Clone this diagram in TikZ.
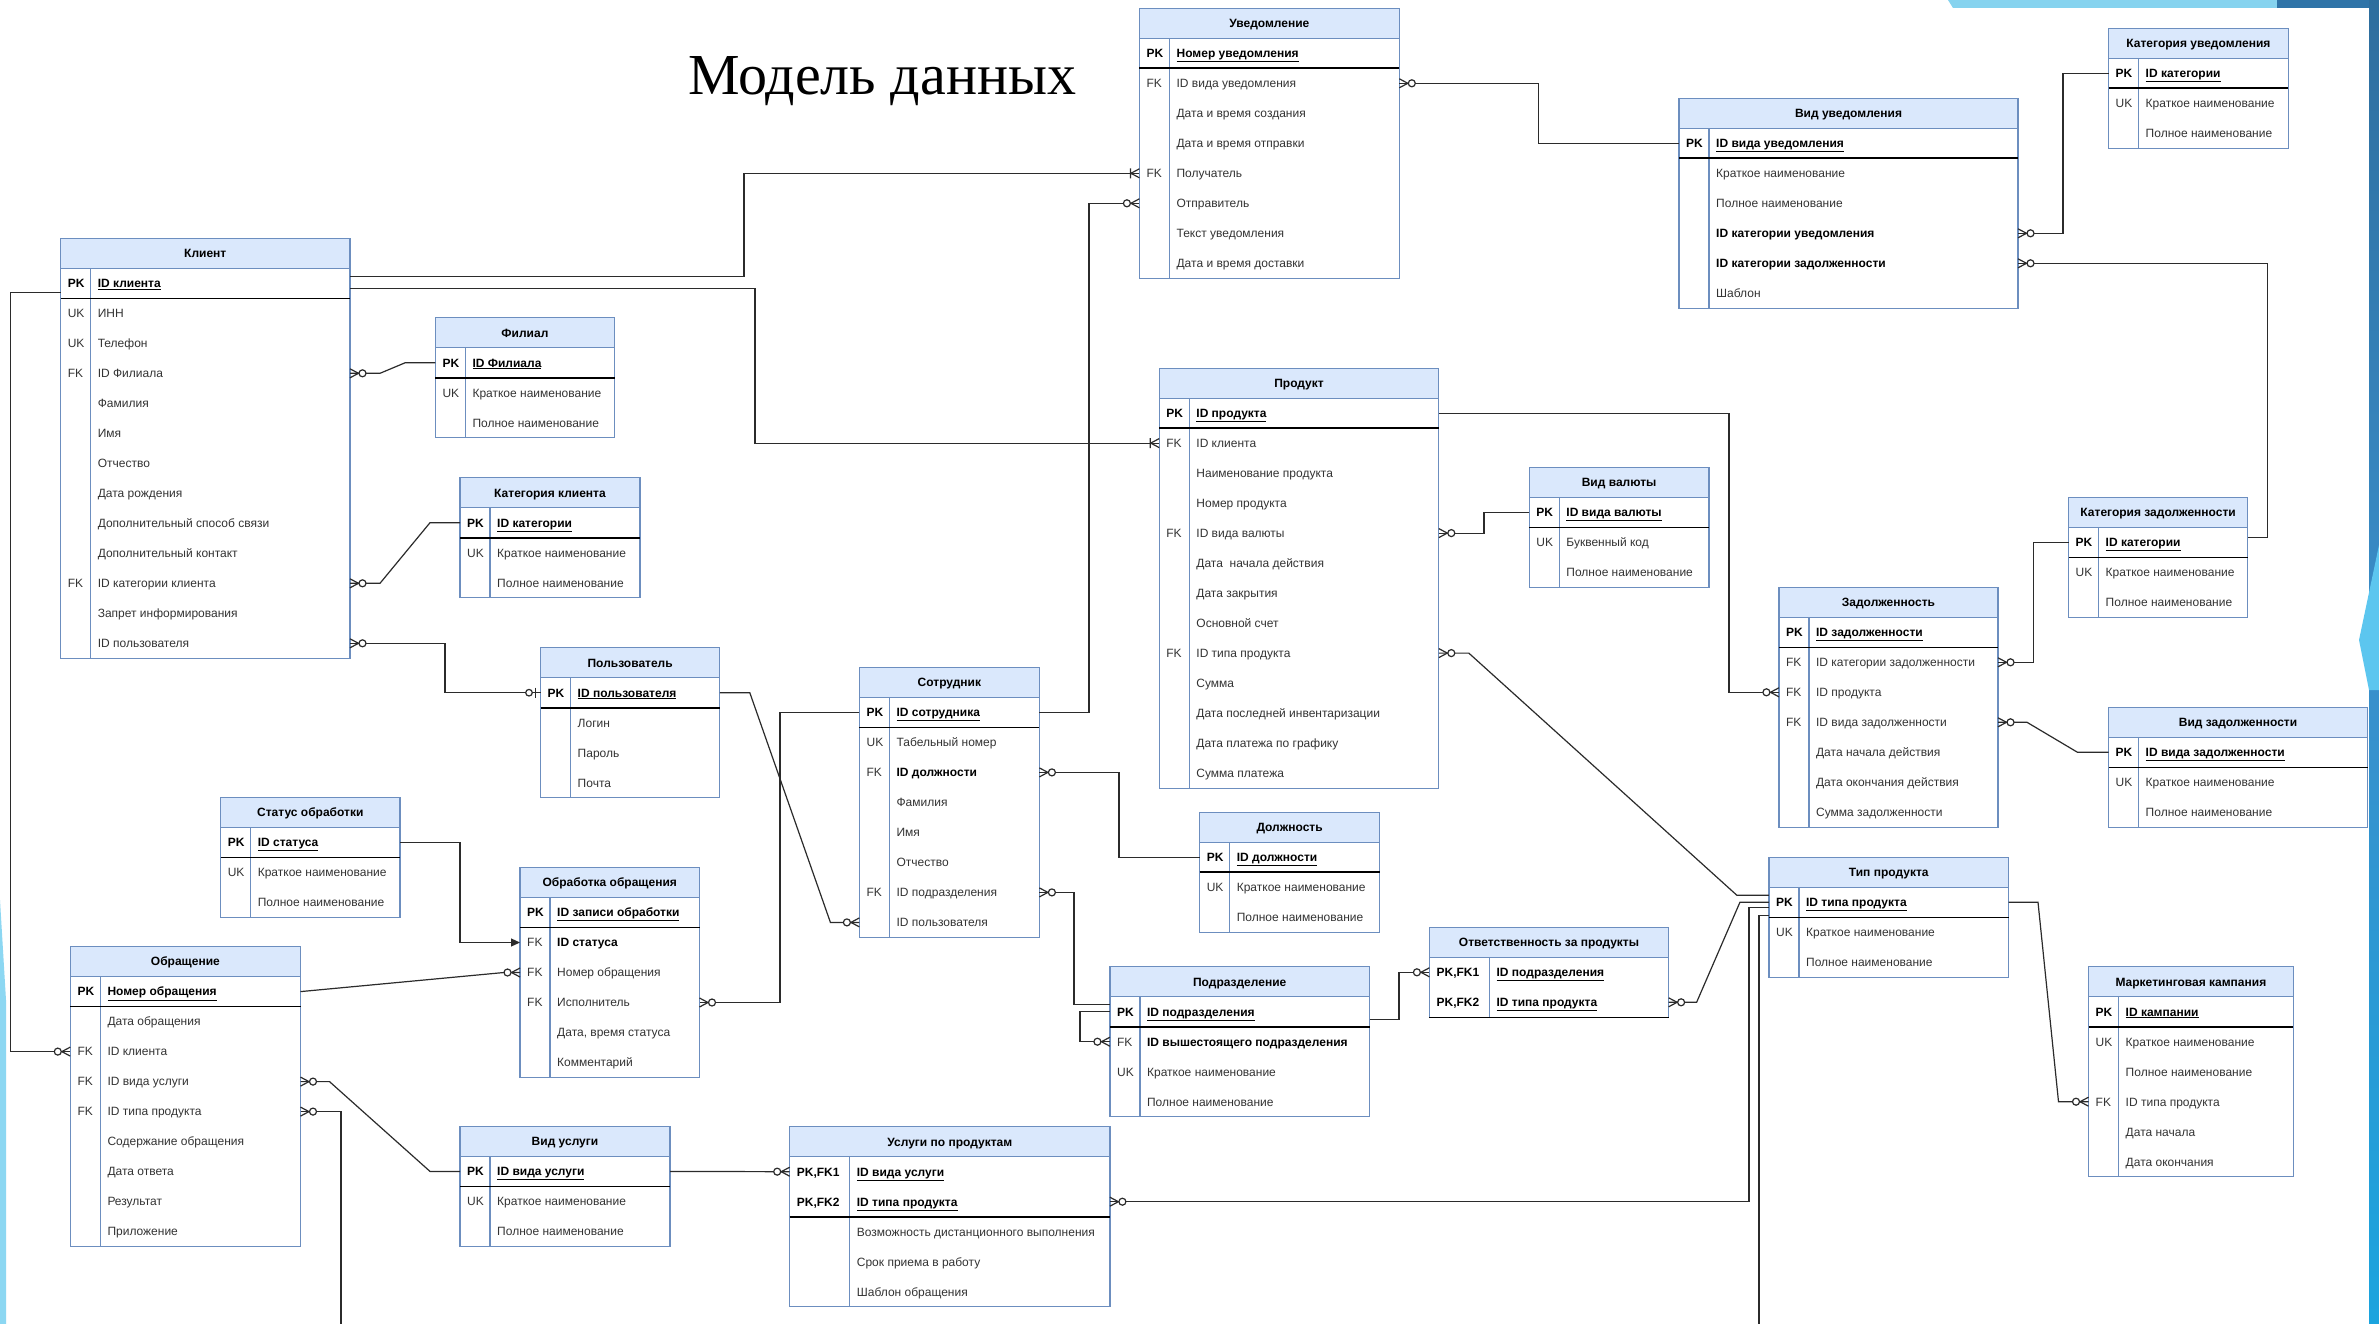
\documentclass[tikz,border=0pt]{standalone}
\usepackage{fontspec}
\setmainfont{Liberation Sans}
\newfontfamily\titlefont{Liberation Serif}
\usetikzlibrary{arrows.meta}
\definecolor{hdrfill}{HTML}{DAE8FC}
\definecolor{erblue}{HTML}{6C8EBF}
\definecolor{lnk}{HTML}{2B2B2B}
\definecolor{txt}{HTML}{333333}
\definecolor{decolight}{HTML}{86D3EF}
\definecolor{decodark}{HTML}{2F74A8}
\definecolor{decotop}{HTML}{2E6E9E}
\definecolor{decomid}{HTML}{3A8FCB}
\definecolor{decobot}{HTML}{1BA4DE}
\definecolor{decofacet}{HTML}{5CC6EF}
\definecolor{decoleft}{HTML}{8CD7F2}

% zero or many
\pgfdeclarearrow{
  name = ERzm,
  setup code = {
    \pgfarrowssettipend{0pt}
    \pgfarrowssetlineend{0pt}
    \pgfarrowssetbackend{-17pt}
  },
  drawing code = {
    \pgfsetdash{}{0pt}
    \pgfpathmoveto{\pgfqpoint{0pt}{4.5pt}}
    \pgfpathlineto{\pgfqpoint{-8.5pt}{0pt}}
    \pgfpathlineto{\pgfqpoint{0pt}{-4.5pt}}
    \pgfusepathqstroke
    \pgfpathcircle{\pgfqpoint{-12.5pt}{0pt}}{3.5pt}
    \pgfsetfillcolor{white}
    \pgfusepathqfillstroke
  }
}
% one or many
\pgfdeclarearrow{
  name = ERom,
  setup code = {
    \pgfarrowssettipend{0pt}
    \pgfarrowssetlineend{0pt}
    \pgfarrowssetbackend{-12pt}
  },
  drawing code = {
    \pgfsetdash{}{0pt}
    \pgfpathmoveto{\pgfqpoint{0pt}{4.5pt}}
    \pgfpathlineto{\pgfqpoint{-8.5pt}{0pt}}
    \pgfpathlineto{\pgfqpoint{0pt}{-4.5pt}}
    \pgfpathmoveto{\pgfqpoint{-9pt}{5pt}}
    \pgfpathlineto{\pgfqpoint{-9pt}{-5pt}}
    \pgfusepathqstroke
  }
}
% zero or one
\pgfdeclarearrow{
  name = ERzo,
  setup code = {
    \pgfarrowssettipend{0pt}
    \pgfarrowssetlineend{0pt}
    \pgfarrowssetbackend{-16pt}
  },
  drawing code = {
    \pgfsetdash{}{0pt}
    \pgfpathmoveto{\pgfqpoint{-5pt}{5pt}}
    \pgfpathlineto{\pgfqpoint{-5pt}{-5pt}}
    \pgfusepathqstroke
    \pgfpathcircle{\pgfqpoint{-11.5pt}{0pt}}{3.3pt}
    \pgfsetfillcolor{white}
    \pgfusepathqfillstroke
  }
}

\newcommand\pk[1]{\textcolor{black}{\bfseries\underline{#1}}}
\newcommand\bk[1]{\textcolor{black}{\bfseries #1}}

\tikzset{
  erhdr/.style={draw=erblue, fill=hdrfill, line width=1.2pt, minimum height=30pt, inner sep=0pt, outer sep=0pt},
  erhdrtext/.style={font=\bfseries\fontsize{12}{14}\selectfont, text=black, inner sep=0pt},
  errow/.style={minimum height=30pt, inner sep=0pt, outer sep=0pt},
  erkey/.style={font=\fontsize{12}{14}\selectfont, text=txt, inner sep=0pt},
  erfld/.style={font=\fontsize{12}{14}\selectfont, text=txt, inner sep=0pt},
  erline/.style={draw=erblue, line width=1.2pt},
  pkline/.style={draw=black, line width=1.6pt},
  conn/.style={draw=lnk, line width=1.2pt},
}

% #1 name, #2 x, #3 y, #4 width, #5 key width, #6 number of PK rows, #7 title, #8 rows
\newcommand\ertbl[8]{%
  \node[erhdr, minimum width=#4pt, anchor=north west] (#1) at (#2,#3) {};
  \node[erhdrtext, anchor=base] (#1-title) at ({#2+#4/2},{#3+19.3}) {#7};
  \foreach[count=\i] \k/\t in {#8} {%
    \node[errow, minimum width=#4pt, anchor=north west] (#1-\i) at (#2,{#3+30*\i}) {};
    \node[erkey, anchor=base west] (#1-\i-k) at ({#2+7},{#3+30*\i+19.3}) {\k};
    \node[erfld, anchor=base west] (#1-\i-f) at ({#2+#5+7},{#3+30*\i+19.3}) {\t};
    \xdef\ernrows{\i}%
  }%
  \draw[erline] (#2,{#3+30}) rectangle ({#2+#4},{#3+30+30*\ernrows});
  \draw[erline] ({#2+#5},{#3+30}) -- ({#2+#5},{#3+30+30*\ernrows});
  \draw[pkline] (#2,{#3+30+30*#6}) -- ({#2+#4},{#3+30+30*#6});
}

\begin{document}
\begin{tikzpicture}[x=1pt,y=-1pt]
\useasboundingbox (0,0) rectangle (2379,1324);
\fill[white] (0,0) rectangle (2379,1324);

% decorations
\fill[decolight] (1948,0) -- (2277,0) -- (2277,8) -- (1953,8) -- cycle;
\fill[decodark] (2277,0) rectangle (2379,8);
\shade[top color=decotop, bottom color=decobot, middle color=decomid] (2369,0) rectangle (2379,1324);
\fill[decofacet] (2379,545) -- (2359,640) -- (2369,690) -- (2379,690) -- cycle;
\fill[decoleft] (0,900) -- (6,1000) -- (6,1324) -- (0,1324) -- cycle;

% title
\node[font=\titlefont\fontsize{58}{62}\selectfont, anchor=base west, inner sep=0pt] (title) at (688,95) {Модель данных};

% tables
\ertbl{klient}{60.6}{238.3}{289.4}{30}{1}{Клиент}{\bk{PK}/\pk{ID клиента}, UK/ИНН, UK/Телефон, FK/ID Филиала, {}/Фамилия, {}/Имя, {}/Отчество, {}/Дата рождения, {}/Дополнительный способ связи, {}/Дополнительный контакт, FK/ID категории клиента, {}/Запрет информирования, {}/ID пользователя}
\ertbl{filial}{435.3}{317.7}{179.3}{30}{1}{Филиал}{\bk{PK}/\pk{ID Филиала}, UK/Краткое наименование, {}/Полное наименование}
\ertbl{katklient}{460}{477.7}{180}{30}{1}{Категория клиента}{\bk{PK}/\pk{ID категории}, UK/Краткое наименование, {}/Полное наименование}
\ertbl{polz}{540.5}{647.7}{179.3}{30}{1}{Пользователь}{\bk{PK}/\pk{ID пользователя}, {}/Логин, {}/Пароль, {}/Почта}
\ertbl{status}{220.6}{797.5}{179.4}{30}{1}{Статус обработки}{\bk{PK}/\pk{ID статуса}, UK/Краткое наименование, {}/Полное наименование}
\ertbl{obrab}{520}{867.5}{179.5}{30}{1}{Обработка обращения}{\bk{PK}/\pk{ID записи обработки}, FK/\bk{ID статуса}, FK/Номер обращения, FK/Исполнитель, {}/{Дата, время статуса}, {}/Комментарий}
\ertbl{obr}{70.3}{946.6}{230.2}{30}{1}{Обращение}{\bk{PK}/\pk{Номер обращения}, {}/Дата обращения, FK/ID клиента, FK/ID вида услуги, FK/ID типа продукта, {}/Содержание обращения, {}/Дата ответа, {}/Результат, {}/Приложение}
\ertbl{vidusl}{460}{1126.4}{210}{30}{1}{Вид услуги}{\bk{PK}/\pk{ID вида услуги}, UK/Краткое наименование, {}/Полное наименование}
\ertbl{uslprod}{789.7}{1126.7}{320.2}{60}{2}{Услуги по продуктам}{\bk{PK,FK1}/\pk{ID вида услуги}, \bk{PK,FK2}/\pk{ID типа продукта}, {}/Возможность дистанционного выполнения, {}/Срок приема в работу, {}/Шаблон обращения}
\ertbl{uved}{1139.4}{8.3}{259.9}{30}{1}{Уведомление}{\bk{PK}/\pk{Номер уведомления}, FK/ID вида уведомления, {}/Дата и время создания, {}/Дата и время отправки, FK/Получатель, {}/Отправитель, {}/Текст уведомления, {}/Дата и время доставки}
\ertbl{sotr}{859.4}{667.4}{180}{30}{1}{Сотрудник}{\bk{PK}/\pk{ID сотрудника}, UK/Табельный номер, FK/\bk{ID должности}, {}/Фамилия, {}/Имя, {}/Отчество, FK/ID подразделения, {}/ID пользователя}
\ertbl{prod}{1159.2}{368.1}{279.6}{30}{1}{Продукт}{\bk{PK}/\pk{ID продукта}, FK/ID клиента, {}/Наименование продукта, {}/Номер продукта, FK/ID вида валюты, {}/Дата\ \ начала действия, {}/Дата закрытия, {}/Основной счет, FK/ID типа продукта, {}/Сумма, {}/Дата последней инвентаризации, {}/Дата платежа по графику, {}/Сумма платежа}
\ertbl{dolzh}{1199.6}{812.1}{180}{30}{1}{Должность}{\bk{PK}/\pk{ID должности}, UK/Краткое наименование, {}/Полное наименование}
\ertbl{podr}{1109.9}{966.7}{259.6}{30}{1}{Подразделение}{\bk{PK}/\pk{ID подразделения}, FK/\bk{ID вышестоящего подразделения}, UK/Краткое наименование, {}/Полное наименование}
\ertbl{otv}{1429.4}{927.3}{239.2}{60}{2}{Ответственность за продукты}{\bk{PK,FK1}/\pk{ID подразделения}, \bk{PK,FK2}/\pk{ID типа продукта}}
\ertbl{viduv}{1679}{98.3}{339}{30}{1}{Вид уведомления}{\bk{PK}/\pk{ID вида уведомления}, {}/Краткое наименование, {}/Полное наименование, {}/\bk{ID категории уведомления}, {}/\bk{ID категории задолженности}, {}/Шаблон}
\ertbl{katuv}{2108.5}{28.3}{179.8}{30}{1}{Категория уведомления}{\bk{PK}/\pk{ID категории}, UK/Краткое наименование, {}/Полное наименование}
\ertbl{valuta}{1529.2}{467.3}{179.8}{30}{1}{Вид валюты}{\bk{PK}/\pk{ID вида валюты}, UK/Буквенный код, {}/Полное наименование}
\ertbl{katzad}{2068.5}{497.3}{179.2}{30}{1}{Категория задолженности}{\bk{PK}/\pk{ID категории}, UK/Краткое наименование, {}/Полное наименование}
\ertbl{zad}{1778.9}{587.3}{219.1}{30}{1}{Задолженность}{\bk{PK}/\pk{ID задолженности}, FK/ID категории задолженности, FK/ID продукта, FK/ID вида задолженности, {}/Дата начала действия, {}/Дата окончания действия, {}/Сумма задолженности}
\ertbl{vidzad}{2108.5}{707.3}{259}{30}{1}{Вид задолженности}{\bk{PK}/\pk{ID вида задолженности}, UK/Краткое наименование, {}/Полное наименование}
\ertbl{tip}{1768.9}{857.3}{239.7}{30}{1}{Тип продукта}{\bk{PK}/\pk{ID типа продукта}, UK/Краткое наименование, {}/Полное наименование}
\ertbl{mark}{2088.5}{966.7}{204.8}{30}{1}{Маркетинговая кампания}{\bk{PK}/\pk{ID кампании}, UK/Краткое наименование, {}/Полное наименование, FK/ID типа продукта, {}/Дата начала, {}/Дата окончания}

% bend coordinates
\coordinate (v1) at (744,0);
\coordinate (v2) at (755,0);
\coordinate (v3) at (10.7,0);
\coordinate (v6) at (445,0);
\coordinate (v8) at (1089,0);
\coordinate (v9) at (780,0);
\coordinate (v10) at (1119,0);
\coordinate (v11) at (1074,0);
\coordinate (v12) at (1080,0);
\coordinate (v13) at (1399,0);
\coordinate (v16) at (1749,0);
\coordinate (v22) at (460,0);
\coordinate (v23) at (1538.6,0);
\coordinate (v24) at (2063,0);
\coordinate (v25) at (2267.7,0);
\coordinate (v26) at (1729,0);
\coordinate (v27) at (2033.6,0);
\coordinate (v29) at (1484,0);
\coordinate (bot1) at (341,1324);
\coordinate (bot2) at (1759,1324);
\coordinate (podrtop) at ([yshift=7pt]podr-1.west);
\coordinate (tipc) at ([yshift=-5pt]tip-1.west);
\coordinate (kzr) at ([yshift=5pt]katzad-1.east);

% connectors
\draw[conn,-ERom] ([yshift=7pt]klient-1.east) -| (v1 |- uved-5.west) -- (uved-5.west);
\draw[conn,-ERom] ([yshift=-5pt]klient-1.east) -| (v2 |- prod-2.west) -- (prod-2.west);
\draw[conn,-ERzm] ([yshift=-9pt]klient-1.west) -| (v3 |- obr-3.west) -- (obr-3.west);
\draw[conn,ERzm-] (klient-4.east) -- ++(30,0) -- ([xshift=-30pt]filial-1.west) -- (filial-1.west);
\draw[conn,ERzm-] (klient-11.east) -- ++(30,0) -- ([xshift=-30pt]katklient-1.west) -- (katklient-1.west);
\draw[conn,ERzm-ERzo] (klient-13.east) -| (v6 |- polz-1.west) -- (polz-1.west);
\draw[conn,-ERzm] (polz-1.east) -- ++(30,0) -- ([xshift=-29pt]sotr-8.west) -- (sotr-8.west);
\draw[conn,-ERzm] (sotr-1.east) -| (v8 |- uved-6.west) -- (uved-6.west);
\draw[conn,-ERzm] (sotr-1.west) -| (v9 |- obrab-4.east) -- (obrab-4.east);
\draw[conn,ERzm-] (sotr-3.east) -| (v10 |- dolzh-1.west) -- (dolzh-1.west);
\draw[conn,ERzm-] (sotr-7.east) -| (v11 |- podrtop) -- (podrtop);
\draw[conn,-ERzm] (podr-1.west) -| (v12 |- podr-2.west) -- (podr-2.west);
\draw[conn,-ERzm] ([yshift=-8pt]podr-1.east) -| (v13 |- otv-1.west) -- (otv-1.west);
\draw[conn,ERzm-] (otv-2.east) -- ++(28,0) -- ([xshift=-29pt]tip-1.west) -- (tip-1.west);
\draw[conn,ERzm-] (prod-9.east) -- ++(30,0) -- ([xshift=-32pt,yshift=7pt]tip-1.west) -- ([yshift=7pt]tip-1.west);
\draw[conn,ERzm-] (uslprod-2.east) -| (v16 |- tipc) -- (tipc);
\draw[conn,ERzm-] (obr-5.east) -| (bot1);
\draw[conn] ([yshift=-13pt]tip-1.west) -| (bot2);
\draw[conn,ERzm-] (obr-4.east) -- ++(29,0) -- ([xshift=-30pt]vidusl-1.west) -- (vidusl-1.west);
\draw[conn,-ERzm] (vidusl-1.east) -- (uslprod-1.west);
\draw[conn,-ERzm] (obr-1.east) -- ([xshift=-16pt]obrab-3.west) -- (obrab-3.west);
\draw[conn,-{Triangle[length=9pt,width=8pt]}] (status-1.east) -| (v22 |- obrab-2.west) -- (obrab-2.west);
\draw[conn,ERzm-] (uved-2.east) -| (v23 |- viduv-1.west) -- (viduv-1.west);
\draw[conn,ERzm-] (viduv-4.east) -| (v24 |- katuv-1.west) -- (katuv-1.west);
\draw[conn,ERzm-] (viduv-5.east) -| (v25 |- kzr) -- (kzr);
\draw[conn,-ERzm] (prod-1.east) -| (v26 |- zad-3.west) -- (zad-3.west);
\draw[conn,ERzm-] (zad-2.east) -| (v27 |- katzad-1.west) -- (katzad-1.west);
\draw[conn,ERzm-] (zad-4.east) -- ++(29,0) -- ([xshift=-31pt]vidzad-1.west) -- (vidzad-1.west);
\draw[conn,ERzm-] (prod-5.east) -| (v29 |- valuta-1.west) -- (valuta-1.west);
\draw[conn,-ERzm] (tip-1.east) -- ++(29.4,0) -- ([xshift=-30pt]mark-4.west) -- (mark-4.west);
\end{tikzpicture}
\end{document}
